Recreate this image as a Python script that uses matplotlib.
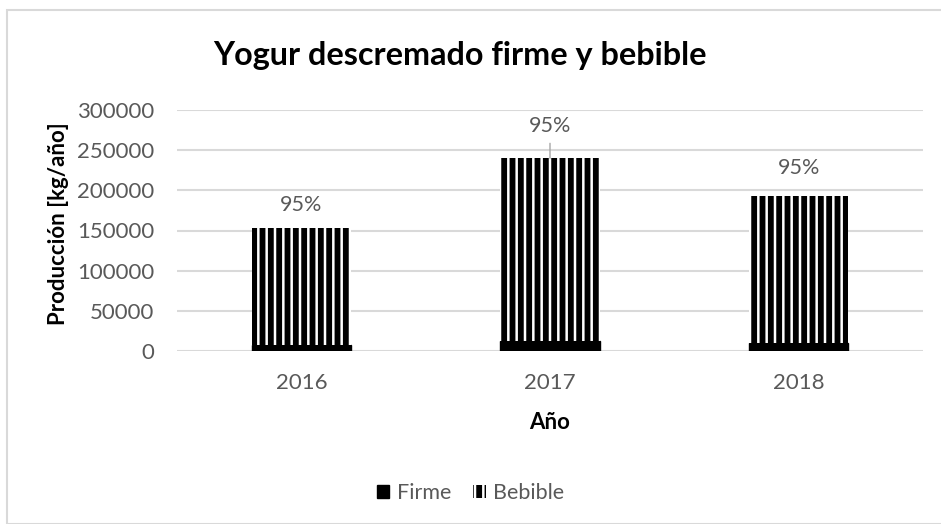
import numpy as np
import matplotlib.pyplot as plt
from matplotlib.patches import Rectangle

# data
years = ['2016', '2017', '2018']
firme = [7600, 12000, 9600]
bebible = [145400, 228000, 183000]
labels = ['95%', '95%', '95%']
yticks = [0, 50000, 100000, 150000, 200000, 250000, 300000]

plt.rcParams['font.family'] = ['Lato', 'DejaVu Sans']
plt.rcParams['hatch.linewidth'] = 4.2

gray = '#595959'
fig = plt.figure(figsize=(9.41, 5.24), dpi=100)
fig.patches.append(Rectangle((7 / 941, 0), 1.0, 1 - 10 / 524, transform=fig.transFigure,
                             fill=False, edgecolor='#d9d9d9', linewidth=1.5))
ax = fig.add_axes([177 / 941, 1 - 351 / 524, (923 - 177) / 941, (351 - 110) / 524])

x = np.arange(len(years))
ax.bar(x, firme, width=0.4, color='black', edgecolor='black', label='Firme', zorder=3)
# edgecolor sets the hatch colour, linewidth 0 hides the outline
ax.bar(x, bebible, width=0.4, bottom=firme, color='white', edgecolor='black',
       hatch='||', linewidth=0, label='Bebible', zorder=3)

tops = np.array(firme) + np.array(bebible)
offsets = [23, 32, 28]
for i, t in enumerate(tops):
    ax.annotate(labels[i], (x[i], t), xytext=(0, offsets[i]), textcoords='offset pixels',
                ha='center', va='center', fontsize=15.5, color=gray)
# leader line for 2017
ax.annotate('', (x[1], tops[1]), xytext=(x[1], tops[1] + 18500),
            arrowprops=dict(arrowstyle='-', color='#a6a6a6', lw=1, shrinkA=0, shrinkB=0))

ax.set_xlim(-0.5, 2.5)
ax.set_ylim(0, 300000)
ax.set_xticks(x)
ax.set_xticklabels(years)
ax.set_yticks(yticks)
ax.tick_params(length=0, labelsize=16, labelcolor=gray)
ax.tick_params(axis='y', pad=16.5)
ax.tick_params(axis='x', pad=16)
ax.grid(axis='y', color='#d9d9d9', linewidth=1.5, zorder=0)
for s in ax.spines.values():
    s.set_visible(False)

ax.set_xlabel('Año', fontsize=16, fontweight='bold', va='center')
ax.xaxis.set_label_coords(0.5, (351 - 422) / 241)
ax.set_ylabel('Producción [kg/año]', fontsize=16, fontweight='bold', va='center')
ax.yaxis.set_label_coords((59 - 177) / 746, (351 - 224) / 241)
fig.text(460 / 941, 1 - 56 / 524, 'Yogur descremado firme y bebible', ha='center', va='center',
         fontsize=23.3, fontweight='bold')

leg = ax.legend(loc='center', bbox_to_anchor=(0.5, 1 - 493 / 524), bbox_transform=fig.transFigure,
                ncol=2, frameon=False, fontsize=15.5, handlelength=0.6, handleheight=0.6,
                columnspacing=1.0, handletextpad=0.35)
for t in leg.get_texts():
    t.set_color(gray)

fig.savefig('out.png', dpi=100)
